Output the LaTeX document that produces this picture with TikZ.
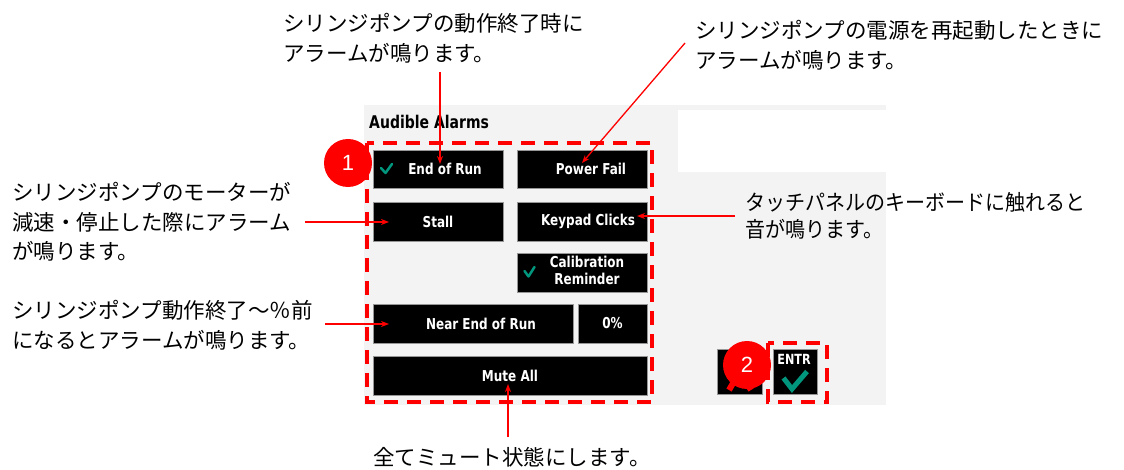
\documentclass[tikz,border=0pt]{standalone}
\usepackage{fontspec}
\newfontfamily\jp{Noto Sans CJK JP}
\newfontfamily\jpn[FakeStretch=0.93]{Noto Sans CJK JP}
\newfontfamily\pix[FakeStretch=0.8]{DejaVu Sans}
\newfontfamily\numfont{Liberation Sans}
\usetikzlibrary{arrows.meta}
\definecolor{panelgray}{RGB}{243,243,243}
\definecolor{chk}{RGB}{0,150,125}
\definecolor{btnedge}{RGB}{150,150,150}
\begin{document}
\begin{tikzpicture}[x=1pt,y=-1pt,
  btn/.style={draw=btnedge, line width=0.8pt, fill=black, text=white, inner sep=0pt,
    font=\pix\bfseries\fontsize{15}{17}\selectfont},
  reddash/.style={draw=red, line width=3.5pt, dash pattern=on 14pt off 9pt},
  badge/.style={circle, fill=red, minimum size=48pt, inner sep=0pt, text=white,
    font=\numfont\fontsize{22}{24}\selectfont},
  note/.style={anchor=west, inner sep=0pt, align=left, text=black,
    font=\jp\fontsize{21.5}{29.5}\selectfont},
  arr/.style={draw=red, line width=1.3pt, -{Stealth[length=8pt,width=6pt]}},
  tick/.style={draw=chk, line width=2.5pt, line cap=round, line join=round}
]
\useasboundingbox (0,0) rectangle (1124,470);
\fill[white] (0,0) rectangle (1124,470);

% panel
\fill[panelgray] (364,105) rectangle (886,405);
\fill[white] (678,110) rectangle (886,172);
\node[anchor=west, inner sep=0pt, font=\pix\bfseries\fontsize{17.5}{20}\selectfont] (title) at (369,122) {Audible Alarms};

% buttons
\node[btn, minimum width=130pt, minimum height=38pt] (eor) at (438,169) {\hspace*{14pt}End of Run};
\node[btn, minimum width=130pt, minimum height=38pt] (pf) at (582,169) {\hspace*{18pt}Power Fail};
\node[btn, minimum width=130pt, minimum height=39pt] (stall) at (438,221.5) {Stall};
\node[btn, minimum width=130pt, minimum height=39pt] (kc) at (582,221.5) {\hspace*{12pt}Keypad Clicks};
\node[btn, minimum width=130pt, minimum height=39pt] (cal) at (582,272.5) {\hspace*{10pt}\begin{tabular}{@{}c@{}}Calibration\\[0pt]Reminder\end{tabular}};
\node[btn, minimum width=200pt, minimum height=39pt] (neor) at (473,323.5) {\hspace*{16pt}Near End of Run};
\node[btn, minimum width=69pt, minimum height=39pt] (pct) at (612.5,323.5) {0\%};
\node[btn, minimum width=274pt, minimum height=39pt] (mute) at (510,375.5) {Mute All};

% check marks
\draw[tick] (381,168) -- (385.5,173) -- (392,164);
\draw[tick] (524.5,271) -- (528.5,276.5) -- (534.5,267);

% X and ENTR buttons
\node[btn, minimum width=45pt, minimum height=45pt] (xbtn) at (739.5,371.5) {};
\draw[red, line width=6pt] (729,353) -- (751,390) (751,353) -- (729,390);
\node[btn, minimum width=44pt, minimum height=45pt] (entr) at (795,371.5) {};
\node[inner sep=0pt, text=white, font=\pix\bfseries\fontsize{14}{16}\selectfont] (entrtxt) at (794,359) {ENTR};
\draw[draw=chk, line width=5pt, line join=miter] (783.5,378) -- (792,389) -- (807,371.5);

% dashed frames
\draw[reddash] (367,143) rectangle (652,402);
\draw[reddash] (768,343) rectangle (827,402);

% badges
\node[badge] (b1) at (348,163) {1};
\node[badge] (b2) at (747,365) {2};

% notes
\node[note] (tA) at (283,38) {シリンジポンプの動作終了時に\\アラームが鳴ります。};
\node[note] (tB) at (695,45) {シリンジポンプの電源を再起動したときに\\アラームが鳴ります。};
\node[note] (tC) at (12,222) {シリンジポンプのモーターが\\減速・停止した際にアラーム\\が鳴ります。};
\node[note] (tD) at (12,325) {シリンジポンプ動作終了～％前\\になるとアラームが鳴ります。};
\node[note, font=\jpn\fontsize{21.5}{27}\selectfont] (tE) at (745,216) {タッチパネルのキーボードに触れると\\音が鳴ります。};
\node[note] (tF) at (373,457) {全てミュート状態にします。};

% arrows
\coordinate (a1s) at (440,72);  \coordinate (a1e) at (440,164);
\coordinate (a2s) at (685,43);  \coordinate (a2e) at (582,163);
\coordinate (a3s) at (305,222); \coordinate (a3e) at (389,222);
\coordinate (a4s) at (325,324); \coordinate (a4e) at (389,324);
\coordinate (a5s) at (735,216); \coordinate (a5e) at (637,216);
\coordinate (a6s) at (508,437); \coordinate (a6e) at (508,384);
\draw[arr] (a1s) -- (a1e);
\draw[arr] (a2s) -- (a2e);
\draw[arr] (a3s) -- (a3e);
\draw[arr] (a4s) -- (a4e);
\draw[arr] (a5s) -- (a5e);
\draw[arr] (a6s) -- (a6e);
\end{tikzpicture}
\end{document}
